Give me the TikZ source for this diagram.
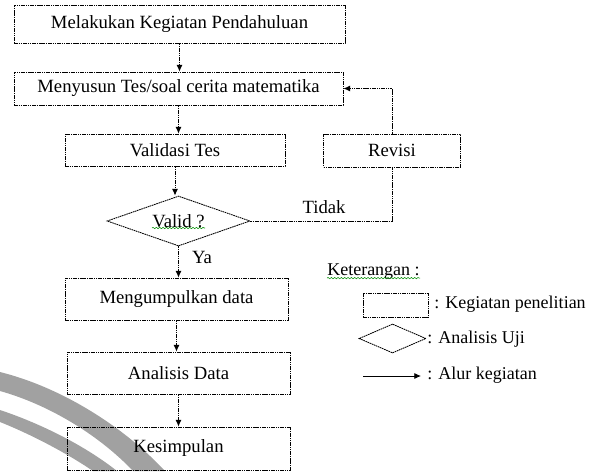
\documentclass[tikz,border=0pt]{standalone}
\usepackage{fontspec}
\setmainfont{Liberation Serif}
\usetikzlibrary{shapes.geometric,arrows.meta,decorations.pathmorphing}

\newlength{\du}
\setlength{\du}{0.75pt}

\tikzset{
  titik/.style={dash pattern=on 1.2pt off 0.5pt, line width=0.65pt},
  kotak/.style={draw, titik, rectangle, inner sep=0pt,
    font=\fontsize{14}{16}\selectfont},
  ujian/.style={draw, titik, diamond, aspect=2.86, inner sep=0pt,
    font=\fontsize{14}{16}\selectfont},
  garis/.style={titik},
  alur/.style={garis, -{Latex[length=5pt,width=4.5pt]}},
  teks/.style={inner sep=0pt, font=\fontsize{14}{16}\selectfont},
  ket/.style={inner sep=0pt, anchor=west, font=\fontsize{13.5}{16}\selectfont},
  coret/.style={draw=green!55!black, line width=0.4pt, decorate,
    decoration={snake, amplitude=0.5pt, segment length=2.5pt}}
}

\begin{document}
\begin{tikzpicture}
\pgftransformxscale{1.000000}
\pgftransformyscale{-1.000000}
\definecolor{pitacolor}{rgb}{0.630000, 0.630000, 0.630000}
\useasboundingbox (0\du,0\du) rectangle (598\du,471\du);

% pita abu-abu
\fill[pitacolor] (0\du,372\du) .. controls (60\du,387\du) and (122\du,425\du) .. (165\du,471\du)
  -- (133\du,471\du) .. controls (100\du,436\du) and (50\du,405\du) .. (0\du,391\du) -- cycle;
\fill[pitacolor] (0\du,410\du) .. controls (45\du,425\du) and (88\du,448\du) .. (117\du,471\du)
  -- (93\du,471\du) .. controls (65\du,452\du) and (30\du,434\du) .. (0\du,422\du) -- cycle;

\node[kotak, minimum width=331\du, minimum height=38\du] (pendahuluan) at (179.5\du,24\du)
  {Melakukan Kegiatan Pendahuluan};
\node[kotak, minimum width=329\du, minimum height=33\du] (menyusun) at (178.5\du,88.5\du)
  {Menyusun Tes/soal cerita matematika};
\node[kotak, minimum width=220\du, minimum height=32\du] (validasi) at (175\du,150\du)
  {Validasi Tes};
\node[kotak, minimum width=137\du, minimum height=33\du] (revisi) at (392\du,150.5\du)
  {Revisi};
\node[ujian, minimum width=143\du, minimum height=50\du] (valid) at (178.5\du,221\du)
  {Valid ?};
\node[kotak, minimum width=223\du, minimum height=42\du] (kumpul) at (176.5\du,299\du)
  {Mengumpulkan data};
\node[kotak, minimum width=223\du, minimum height=42\du] (analisis) at (178.5\du,373\du)
  {Analisis Data};
\node[kotak, minimum width=223\du, minimum height=43\du] (simpulan) at (178.5\du,448.5\du)
  {Kesimpulan};

\draw[alur] (pendahuluan.south) -- (pendahuluan.south |- menyusun.north);
\draw[alur] (menyusun.south) -- (menyusun.south |- validasi.north);
\draw[alur] (validasi.south) -- (validasi.south |- valid.north);
\draw[alur] (valid.south) -- (valid.south |- kumpul.north);
\draw[alur] (kumpul.south) -- (kumpul.south |- analisis.north);
\draw[alur] (analisis.south) -- (analisis.south |- simpulan.north);
\draw[garis] (valid.east) -| (revisi.south);
\draw[alur] (revisi.north) |- (menyusun.east);

\node[teks] (tidak) at (324\du,207\du) {Tidak};
\node[teks] (ya) at (202\du,257\du) {Ya};
\draw[coret] (152\du,228\du) -- (205\du,228\du);

% keterangan
\node[ket] (keterangan) at (327\du,272\du) {Keterangan :};
\draw[coret] (keterangan.south west) ++(0\du,-2\du) -- ++(93\du,0\du);
\node[draw, titik, minimum width=65\du, minimum height=24\du,
  inner sep=0pt] (ketkotak) at (395.5\du,305\du) {};
\node[draw, titik, diamond, aspect=2.3, inner sep=0pt,
  minimum width=67\du, minimum height=29\du] (ketujian) at (392.5\du,338.5\du) {};
\coordinate (ketawal) at (363\du,376\du);
\coordinate (ketakhir) at (421\du,376\du);
\draw[line width=0.6pt, -{Latex[length=5pt,width=4.5pt]}] (ketawal) -- (ketakhir);
\node[ket] (ketkegiatan) at (434\du,304\du) {: Kegiatan penelitian};
\node[ket] (ketanalisis) at (427\du,339\du) {: Analisis Uji};
\node[ket] (ketalur) at (427\du,375\du) {: Alur kegiatan};

\end{tikzpicture}
\end{document}
